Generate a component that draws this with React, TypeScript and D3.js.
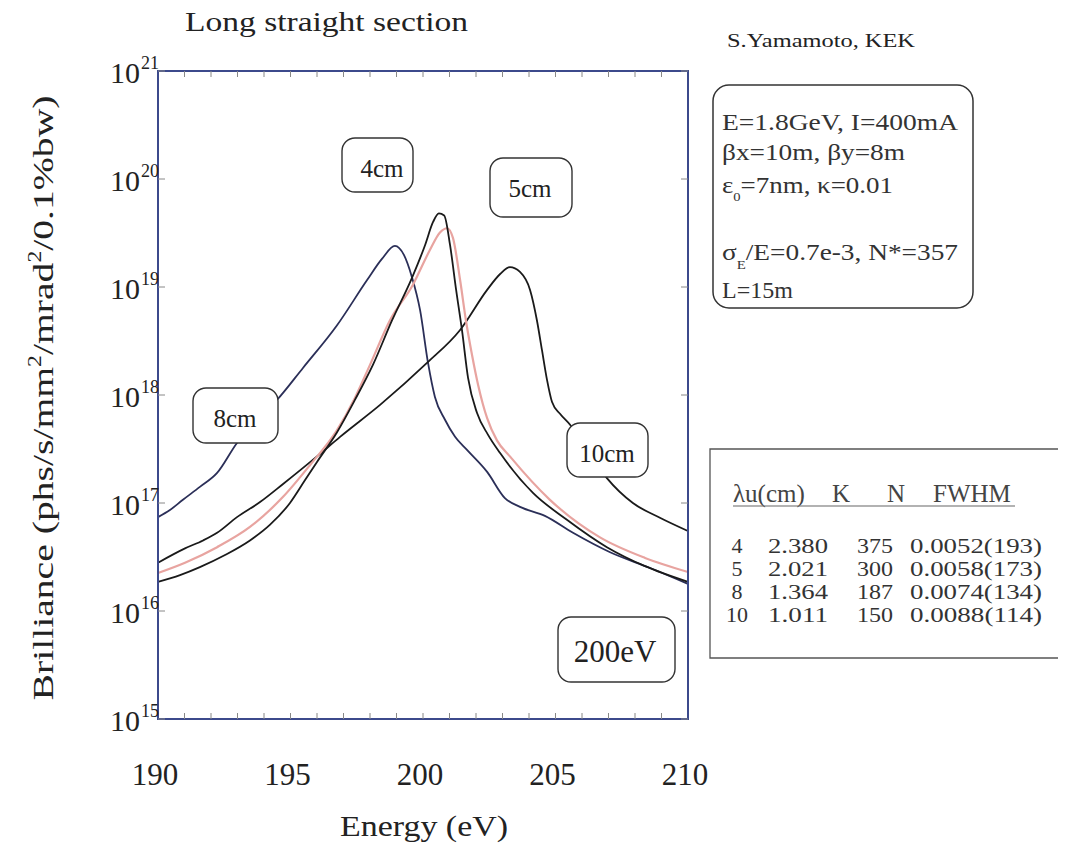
import React from 'react';
import * as d3 from 'd3';

// ---------- data ----------
const energyTicks = [190, 195, 200, 205, 210];
const minorEnergyTicks = d3.range(191, 210);
const decadeExponents = [15, 16, 17, 18, 19, 20, 21];

// λu = 8 cm
const energy8 = [190.0, 190.45, 190.94, 191.58, 192.23, 192.98, 193.74, 194.49, 195.47, 196.75, 197.89, 198.45, 198.94, 199.28, 199.58, 199.89, 200.19, 200.45, 200.83, 201.21, 201.66, 202.42, 203.09, 203.66, 204.6, 205.66, 207.06, 208.57, 210.0];
const bril8 = [7.4e16, 8.6e16, 1.07e17, 1.41e17, 1.9e17, 3.6e17, 5.9e17, 9.0e17, 1.78e18, 4.4e18, 1.16e19, 1.82e19, 2.4e19, 1.98e19, 1.24e19, 6.1e18, 1.98e18, 9.6e17, 5.9e17, 4.1e17, 3.1e17, 1.94e17, 1.11e17, 9.2e16, 7.6e16, 5.3e16, 3.5e16, 2.5e16, 1.78e16];

// λu = 4 cm
const energy4 = [190.0, 190.83, 191.58, 192.53, 193.47, 194.23, 194.98, 195.55, 196.0, 196.75, 197.43, 198.11, 198.83, 199.58, 200.08, 200.38, 200.6, 200.8, 201.02, 201.25, 201.47, 201.7, 202.04, 202.45, 202.91, 204.15, 205.43, 206.94, 208.38, 210.0];
const bril4 = [1.86e16, 2.15e16, 2.55e16, 3.3e16, 4.5e16, 6.3e16, 1.0e17, 1.63e17, 2.4e17, 4.5e17, 9.0e17, 1.9e18, 4.9e18, 1.21e19, 2.45e19, 4.0e19, 4.8e19, 4.6e19, 2.45e19, 9.4e18, 4.0e18, 1.44e18, 6.8e17, 4.3e17, 2.9e17, 1.24e17, 7.0e16, 3.9e16, 2.6e16, 1.86e16];

// λu = 5 cm
const energy5 = [190.0, 191.02, 192.23, 193.47, 194.72, 195.74, 196.75, 197.43, 198.0, 198.75, 199.62, 200.26, 200.64, 200.91, 201.13, 201.4, 201.62, 201.85, 202.08, 202.42, 202.79, 203.28, 204.79, 206.68, 208.38, 210.0];
const bril5 = [2.25e16, 2.8e16, 3.9e16, 6.0e16, 1.14e17, 2.25e17, 4.7e17, 9.4e17, 1.9e18, 4.9e18, 1.05e19, 2.2e19, 3.2e19, 3.5e19, 2.85e19, 1.16e19, 4.9e18, 2.35e18, 1.24e18, 6.1e17, 3.8e17, 2.7e17, 1.07e17, 4.8e16, 3.1e16, 2.3e16];

// λu = 10 cm
const energy10 = [190.0, 191.02, 191.7, 192.23, 192.98, 193.85, 194.72, 196.0, 196.87, 198.38, 200.15, 201.4, 202.42, 202.91, 203.28, 203.66, 204.04, 204.3, 204.49, 204.68, 204.87, 205.17, 205.55, 206.3, 206.94, 207.92, 208.94, 210.0];
const bril10 = [2.8e16, 3.8e16, 4.5e16, 5.3e16, 7.4e16, 1.02e17, 1.5e17, 2.7e17, 4.1e17, 8.1e17, 1.98e18, 4.0e18, 9.4e18, 1.32e19, 1.53e19, 1.38e19, 9.4e18, 4.9e18, 2.6e18, 1.38e18, 8.6e17, 6.7e17, 5.3e17, 2.8e17, 1.7e17, 1.0e17, 7.3e16, 5.5e16];

// table
const tablePeriods = ['4', '5', '8', '10'];
const tableK = ['2.380', '2.021', '1.364', '1.011'];
const tableN = ['375', '300', '187', '150'];
const tableFWHM = ['0.0052(193)', '0.0058(173)', '0.0074(134)', '0.0088(114)'];

const FONT = '"Liberation Serif", "Times New Roman", serif';

function zip(e: number[], b: number[]): [number, number][] {
  return e.map((v, i) => [v, b[i]] as [number, number]);
}

const series = [
  { name: '8cm', data: zip(energy8, bril8), color: '#2b2f58', width: 1.8 },
  { name: '10cm', data: zip(energy10, bril10), color: '#1a1a1a', width: 1.8 },
  { name: '5cm', data: zip(energy5, bril5), color: '#e8a4a0', width: 2.2 },
  { name: '4cm', data: zip(energy4, bril4), color: '#1a1a1a', width: 1.8 },
];

function LabelBox({ x, y, w, h, text, fs, tx, ty }: any) {
  return (
    <g>
      <rect x={x} y={y} width={w} height={h} rx={13} ry={13} fill="#fff" stroke="#333" strokeWidth={1.4} />
      <text x={tx} y={ty} textAnchor="middle" fontSize={fs} fontFamily={FONT} fill="#222">{text}</text>
    </g>
  );
}

export default function App() {
  const W = 1075, H = 846;
  const left = 158, right = 688, top = 71, bottom = 719;
  const x = d3.scaleLinear().domain([190, 210]).range([left, right]);
  const y = d3.scaleLog().domain([1e15, 1e21]).range([bottom, top]);
  const line = d3.line<[number, number]>().x(d => x(d[0])).y(d => y(d[1])).curve(d3.curveMonotoneX);

  const rowBase = [553, 576, 599, 622];

  return (
    <svg width={W} height={H} style={{ position: 'absolute', left: 0, top: 0, background: '#fff' }} fontFamily={FONT}>
      <rect x={0} y={0} width={W} height={H} fill="#fff" />
      {/* title */}
      <text x={185} y={31} fontSize={28} textLength={283} lengthAdjust="spacingAndGlyphs" fill="#222">Long straight section</text>
      <text x={727} y={47} fontSize={19} textLength={188} lengthAdjust="spacingAndGlyphs" fill="#222">S.Yamamoto, KEK</text>

      {/* curves */}
      <g fill="none">
        {series.map(s => (
          <path key={s.name} d={line(s.data) || ''} stroke={s.color} strokeWidth={s.width} />
        ))}
      </g>

      {/* frame */}
      <rect x={left} y={top} width={right - left} height={bottom - top} fill="none" stroke="#3c4a8c" strokeWidth={2} />
      <g stroke="#888" strokeWidth={1}>
        {minorEnergyTicks.map(t => (
          <g key={t}>
            <line x1={x(t)} x2={x(t)} y1={top} y2={top + 6} />
            <line x1={x(t)} x2={x(t)} y1={bottom} y2={bottom - 6} />
          </g>
        ))}
        {decadeExponents.map(e => (
          <g key={e}>
            <line x1={left} x2={left + 7} y1={y(Math.pow(10, e))} y2={y(Math.pow(10, e))} />
            <line x1={right} x2={right - 7} y1={y(Math.pow(10, e))} y2={y(Math.pow(10, e))} />
          </g>
        ))}
      </g>

      {/* y tick labels */}
      {decadeExponents.map(e => {
        const yy = y(Math.pow(10, e));
        return (
          <g key={e} fill="#222">
            <text x={140} y={yy + 12} textAnchor="end" fontSize={30}>10</text>
            <text x={141} y={yy - 2} fontSize={18}>{e}</text>
          </g>
        );
      })}

      {/* x tick labels */}
      {energyTicks.map(t => (
        <text key={t} x={x(t) - 3} y={785} textAnchor="middle" fontSize={31} fill="#222">{t}</text>
      ))}

      <text x={424} y={836} textAnchor="middle" fontSize={30} textLength={168} lengthAdjust="spacingAndGlyphs" fill="#222">Energy (eV)</text>

      {/* y axis title */}
      <text transform="translate(53,398) rotate(-90)" textAnchor="middle" fontSize={30} fill="#222" textLength={605} lengthAdjust="spacingAndGlyphs">
        <tspan>Brilliance (phs/s/mm</tspan>
        <tspan dy={-12} fontSize={18}>2</tspan>
        <tspan dy={12}>/mrad</tspan>
        <tspan dy={-12} fontSize={18}>2</tspan>
        <tspan dy={12}>/0.1%bw)</tspan>
      </text>

      {/* curve labels */}
      <LabelBox x={342} y={138} w={71} h={54} text="4cm" fs={25} tx={382} ty={177} />
      <LabelBox x={490} y={158} w={82} h={59} text="5cm" fs={25} tx={530} ty={197} />
      <LabelBox x={193} y={388} w={85} h={55} text="8cm" fs={25} tx={235} ty={427} />
      <LabelBox x={567} y={423} w={81} h={54} text="10cm" fs={25} tx={607} ty={462} />
      <LabelBox x={558} y={617} w={117} h={65} text="200eV" fs={31} tx={615} ty={662} />

      {/* parameter box */}
      <rect x={713} y={85} width={260} height={223} rx={16} ry={16} fill="none" stroke="#333" strokeWidth={1.5} />
      <g fontSize={24} fill="#333">
        <text x={722} y={130} textLength={236} lengthAdjust="spacingAndGlyphs">E=1.8GeV, I=400mA</text>
        <text x={722} y={160} textLength={183} lengthAdjust="spacingAndGlyphs">βx=10m, βy=8m</text>
        <text x={722} y={193} textLength={171} lengthAdjust="spacingAndGlyphs">
          <tspan>ε</tspan>
          <tspan dy={8} fontSize={13}>0</tspan>
          <tspan dy={-8}>=7nm, κ=0.01</tspan>
        </text>
        <text x={722} y={260} textLength={236} lengthAdjust="spacingAndGlyphs">
          <tspan>σ</tspan>
          <tspan dy={9} fontSize={13}>E</tspan>
          <tspan dy={-9}>/E=0.7e-3, N*=357</tspan>
        </text>
        <text x={722} y={298}>L=15m</text>
      </g>

      {/* table */}
      <path d="M1058,449 L710,449 L710,658 L1058,658" fill="none" stroke="#555" strokeWidth={1.3} />
      <g fontSize={25} fill="#444">
        <text x={733} y={502}>λu(cm)</text>
        <text x={832} y={502}>K</text>
        <text x={887} y={502}>N</text>
        <text x={933} y={502}>FWHM</text>
        <line x1={733} x2={1015} y1={506} y2={506} stroke="#666" strokeWidth={1.2} />
      </g>
      <g fontSize={20} fill="#333">
        {tablePeriods.map((p, i) => (
          <g key={p}>
            <text x={737} y={rowBase[i]} textAnchor="middle" textLength={p.length * 11} lengthAdjust="spacingAndGlyphs">{p}</text>
            <text x={768} y={rowBase[i]} textLength={60} lengthAdjust="spacingAndGlyphs">{tableK[i]}</text>
            <text x={857} y={rowBase[i]} textLength={36} lengthAdjust="spacingAndGlyphs">{tableN[i]}</text>
            <text x={910} y={rowBase[i]} textLength={132} lengthAdjust="spacingAndGlyphs">{tableFWHM[i]}</text>
          </g>
        ))}
      </g>
    </svg>
  );
}
